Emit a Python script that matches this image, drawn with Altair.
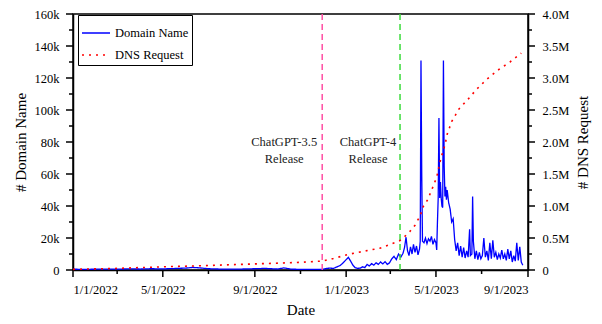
import altair as alt
import pandas as pd

# Domain Name series (daily unique domains)
dom_dates = [
    "2022-01-01", "2022-01-15", "2022-02-01", "2022-02-15", "2022-03-01", "2022-03-15",
    "2022-04-01", "2022-04-15", "2022-05-01", "2022-05-15", "2022-06-01", "2022-06-10",
    "2022-06-20", "2022-07-01", "2022-07-15", "2022-08-01", "2022-08-15", "2022-09-01",
    "2022-09-15", "2022-10-01", "2022-10-10", "2022-10-20", "2022-11-01", "2022-11-15",
    "2022-11-30", "2022-12-05", "2022-12-10", "2022-12-15", "2022-12-20", "2022-12-24",
    "2022-12-28", "2023-01-01", "2023-01-04", "2023-01-07", "2023-01-10", "2023-01-13",
    "2023-01-16", "2023-01-20", "2023-01-23", "2023-01-26", "2023-01-29", "2023-02-01",
    "2023-02-04", "2023-02-07", "2023-02-10", "2023-02-13", "2023-02-16", "2023-02-19",
    "2023-02-22", "2023-02-25", "2023-02-28", "2023-03-03", "2023-03-06", "2023-03-09",
    "2023-03-12", "2023-03-15", "2023-03-18", "2023-03-20", "2023-03-22", "2023-03-24",
    "2023-03-26", "2023-03-28", "2023-03-30", "2023-04-01", "2023-04-03", "2023-04-05",
    "2023-04-07", "2023-04-09", "2023-04-10", "2023-04-11", "2023-04-12", "2023-04-13",
    "2023-04-15", "2023-04-17", "2023-04-19", "2023-04-21", "2023-04-23", "2023-04-25",
    "2023-04-27", "2023-04-29", "2023-05-01", "2023-05-02", "2023-05-03", "2023-05-04",
    "2023-05-05", "2023-05-06", "2023-05-07", "2023-05-08", "2023-05-09", "2023-05-10",
    "2023-05-11", "2023-05-12", "2023-05-13", "2023-05-14", "2023-05-15", "2023-05-16",
    "2023-05-18", "2023-05-20", "2023-05-22", "2023-05-24", "2023-05-26", "2023-05-28",
    "2023-05-30", "2023-06-01", "2023-06-03", "2023-06-05", "2023-06-07", "2023-06-09",
    "2023-06-11", "2023-06-13", "2023-06-15", "2023-06-16", "2023-06-18", "2023-06-19",
    "2023-06-20", "2023-06-22", "2023-06-24", "2023-06-26", "2023-06-28", "2023-06-30",
    "2023-07-02", "2023-07-04", "2023-07-06", "2023-07-08", "2023-07-10", "2023-07-12",
    "2023-07-14", "2023-07-16", "2023-07-18", "2023-07-20", "2023-07-22", "2023-07-24",
    "2023-07-26", "2023-07-28", "2023-07-30", "2023-08-01", "2023-08-03", "2023-08-05",
    "2023-08-07", "2023-08-09", "2023-08-11", "2023-08-13", "2023-08-15", "2023-08-17",
    "2023-08-19", "2023-08-21", "2023-08-23", "2023-08-25",
]
dom_values_k = [
    0.5, 0.4, 0.5, 0.6, 0.5, 0.7,
    0.6, 0.8, 0.7, 0.9, 1.2, 1.6,
    1.3, 0.8, 0.6, 0.5, 0.6, 0.8,
    1.0, 0.6, 1.3, 0.5, 0.4, 0.3,
    0.3, 0.9, 1.2, 1.0, 2.0, 2.8,
    4.5, 6.5, 7.9, 5.5, 3.0, 1.5,
    1.0, 1.2, 2.0, 1.5, 3.5, 2.5,
    4.0, 3.0, 4.5, 3.5, 5.0, 3.8,
    5.2, 3.5, 4.5, 7.0, 8.5, 6.5,
    10.0, 8.0, 10.5, 14.0, 20.5, 12.0,
    9.0, 14.5, 10.0, 16.0, 11.0, 15.0,
    9.5, 13.0, 18.0, 131.0, 60.0, 18.0,
    17.0, 20.0, 16.5, 19.5, 18.0, 21.0,
    16.0, 19.0, 17.0, 12.5, 30.0, 45.0,
    95.0, 45.0, 55.0, 45.0, 40.0, 39.0,
    131.0, 65.0, 46.0, 52.0, 44.0, 50.0,
    42.0, 38.0, 30.0, 32.0, 19.0, 12.0,
    17.0, 9.0, 15.0, 8.0, 14.0, 7.5,
    12.0, 8.0, 25.5, 9.0, 10.0, 46.0,
    18.0, 7.0, 12.0, 6.5, 11.0, 7.0,
    9.0, 20.0, 8.0, 12.0, 6.0, 17.0,
    7.0, 18.5, 8.0, 11.0, 6.5, 10.0,
    7.5, 12.5, 7.0, 10.0, 6.0, 13.0,
    7.0, 12.0, 5.0, 9.0, 5.5, 17.0,
    6.0, 14.5, 5.0, 3.0,
]

# DNS Request series (cumulative)
dns_dates = [
    "2022-01-01", "2022-03-01", "2022-05-01", "2022-07-01", "2022-09-01", "2022-11-01",
    "2022-11-30", "2022-12-15", "2023-01-06", "2023-02-01", "2023-02-15", "2023-03-01",
    "2023-03-14", "2023-03-20", "2023-03-27", "2023-04-03", "2023-04-10", "2023-04-14",
    "2023-04-20", "2023-04-27", "2023-05-02", "2023-05-06", "2023-05-09", "2023-05-13",
    "2023-05-16", "2023-05-19", "2023-05-22", "2023-06-01", "2023-06-13", "2023-06-24",
    "2023-07-08", "2023-07-23", "2023-08-08", "2023-08-23",
]
dns_values_m = [
    0.01, 0.025, 0.05, 0.07, 0.095, 0.12,
    0.14, 0.18, 0.25, 0.31, 0.34, 0.40,
    0.46, 0.52, 0.60, 0.70, 0.85, 0.99,
    1.10, 1.30, 1.45, 1.67, 1.80, 1.95,
    2.12, 2.22, 2.32, 2.52, 2.67, 2.82,
    2.98, 3.125, 3.25, 3.39,
]

series_names = ["Domain Name", "DNS Request"]
release_dates = ["2022-11-30", "2023-03-14"]
release_names = ["gpt35", "gpt4"]
release_labels = ["ChatGPT-3.5\nRelease", "ChatGPT-4\nRelease"]
release_colors = ["#FF4FA3", "#3CDC3C"]

# axis tick positions (major ones carry labels)
x_major_ticks = ["2022-01-01", "2022-05-01", "2022-09-01", "2023-01-01", "2023-05-01", "2023-09-01"]
x_minor_ticks = ["2022-03-01", "2022-07-01", "2022-11-01", "2023-03-01", "2023-07-01"]
left_major_ticks = [0, 20000, 40000, 60000, 80000, 100000, 120000, 140000, 160000]
left_minor_ticks = [10000, 30000, 50000, 70000, 90000, 110000, 130000, 150000]
right_major_ticks = [0, 500000, 1000000, 1500000, 2000000, 2500000, 3000000, 3500000, 4000000]
right_minor_ticks = [250000, 750000, 1250000, 1750000, 2250000, 2750000, 3250000, 3750000]

dom_df = pd.DataFrame({"date": dom_dates, "value": [v * 1000 for v in dom_values_k],
                       "series": series_names[0]})
dns_df = pd.DataFrame({"date": dns_dates, "value": [v * 1e6 for v in dns_values_m],
                       "series": series_names[1]})
rel_df = pd.DataFrame({"date": release_dates, "name": release_names,
                       "label": release_labels, "color": release_colors})

FONT = "Liberation Serif"
W, H = 455, 256

x_values = [alt.DateTime(year=int(d[:4]), month=int(d[5:7]), date=1, utc=True) for d in x_major_ticks]
x_scale = alt.Scale(type="utc",
                    domain=[alt.DateTime(year=2022, month=1, date=1, utc=True),
                            alt.DateTime(year=2023, month=9, date=1, utc=True)],
                    nice=False)
x_axis = alt.Axis(
    title="Date", values=x_values, labelOverlap=False,
    labelFont=FONT, labelFontSize=12.5,
    labelExpr="utcFormat(datum.value, '%-m/%-d/%Y')",
    ticks=False, tickSize=0, labelPadding=13, titlePadding=7,
)
X = alt.X("date:T", scale=x_scale, axis=x_axis)

left_scale = alt.Scale(domain=[0, 160000], nice=False)
right_scale = alt.Scale(domain=[0, 4000000], nice=False)

color_scale = alt.Scale(domain=series_names, range=["#0000FF", "#FF0000"])
dash_scale = alt.Scale(domain=series_names, range=[[1, 0], [2, 5]])
legend = alt.Legend(title=None, orient="none", legendX=5, legendY=1,
                    strokeColor="black", fillColor="white", padding=3,
                    symbolType="stroke", symbolSize=784, symbolStrokeWidth=1.5,
                    labelFont=FONT, labelFontSize=12.5, labelColor="black",
                    rowPadding=-11, labelOffset=4, cornerRadius=0)

left_axis = alt.Axis(
    title="# Domain Name", orient="left", labelOverlap=False,
    labelFont=FONT, labelFontSize=12.5,
    values=left_major_ticks,
    labelExpr="datum.value == 0 ? '0' : format(datum.value / 1000, 'd') + 'k'",
    ticks=False, tickSize=0, labelPadding=14, titlePadding=6,
)
right_axis = alt.Axis(
    title="# DNS Request", orient="right", titleAngle=270, titleBaseline="top",
    labelOverlap=False, labelFont=FONT, labelFontSize=12.5,
    values=right_major_ticks,
    labelExpr="datum.value == 0 ? '0' : format(datum.value / 1000000, '.1f') + 'M'",
    ticks=False, tickSize=0, labelPadding=14, titlePadding=7,
)

blue = alt.Chart(dom_df).mark_line(strokeWidth=1.3, clip=True).encode(
    x=X,
    y=alt.Y("value:Q", scale=left_scale, axis=left_axis),
    color=alt.Color("series:N", scale=color_scale, legend=legend, sort=series_names),
    strokeDash=alt.StrokeDash("series:N", scale=dash_scale, legend=legend, sort=series_names),
)

rules = alt.Chart(rel_df).mark_rule(strokeWidth=1.5, strokeDash=[6, 4]).encode(
    x=X,
    color=alt.Color("color:N", scale=None),
)


def release_text(idx, dx):
    return alt.Chart(rel_df).transform_filter(
        alt.datum.name == release_names[idx]
    ).mark_text(
        font=FONT, fontSize=12.5, color="#222222", align="center", baseline="middle",
        lineBreak="\n", lineHeight=17, dx=dx,
    ).encode(
        x=X,
        y=alt.value(128),
        text="label:N",
    )


texts35 = release_text(0, -38)
texts4 = release_text(1, -32)


def x_ticks(dates, length):
    return alt.Chart(pd.DataFrame({"date": dates})).mark_rule(
        color="black", strokeWidth=1.5
    ).encode(x=X, y=alt.value(H), y2=alt.value(H + length))


def y_ticks(values, scale, axis, x0, x1):
    return alt.Chart(pd.DataFrame({"value": values})).mark_rule(
        color="black", strokeWidth=1.5
    ).encode(x=alt.value(x0), x2=alt.value(x1),
             y=alt.Y("value:Q", scale=scale, axis=axis))


xt_major = x_ticks(x_major_ticks, 7)
xt_minor = x_ticks(x_minor_ticks, 4)
lt_major = y_ticks(left_major_ticks, left_scale, left_axis, 0, -7)
lt_minor = y_ticks(left_minor_ticks, left_scale, left_axis, 0, -4)
rt_major = y_ticks(right_major_ticks, right_scale, right_axis, W, W + 7)
rt_minor = y_ticks(right_minor_ticks, right_scale, right_axis, W, W + 4)

red = alt.Chart(dns_df).mark_line(strokeWidth=1.6).encode(
    x=X,
    y=alt.Y("value:Q", scale=right_scale, axis=right_axis),
    color=alt.Color("series:N", scale=color_scale, legend=legend, sort=series_names),
    strokeDash=alt.StrokeDash("series:N", scale=dash_scale, legend=legend, sort=series_names),
)

inner = alt.layer(blue, rules, texts35, texts4, xt_major, xt_minor, lt_major, lt_minor)
right_group = alt.layer(red, rt_major, rt_minor)
chart = alt.layer(inner, right_group).resolve_scale(y="independent").properties(
    width=W, height=H,
    autosize=alt.AutoSizeParams(type="none"),
    padding={"left": 65, "top": 6, "right": 66, "bottom": 52},
).configure_axis(
    labelFont=FONT, labelFontSize=12.5, labelColor="black",
    titleFont=FONT, titleFontSize=15, titleColor="black", titleFontWeight="normal",
    domainColor="black", domainWidth=1.5, grid=False,
).configure_view(stroke="black", strokeWidth=1.5)

chart.save("out.html", embed_options={"renderer": "svg", "actions": False})
